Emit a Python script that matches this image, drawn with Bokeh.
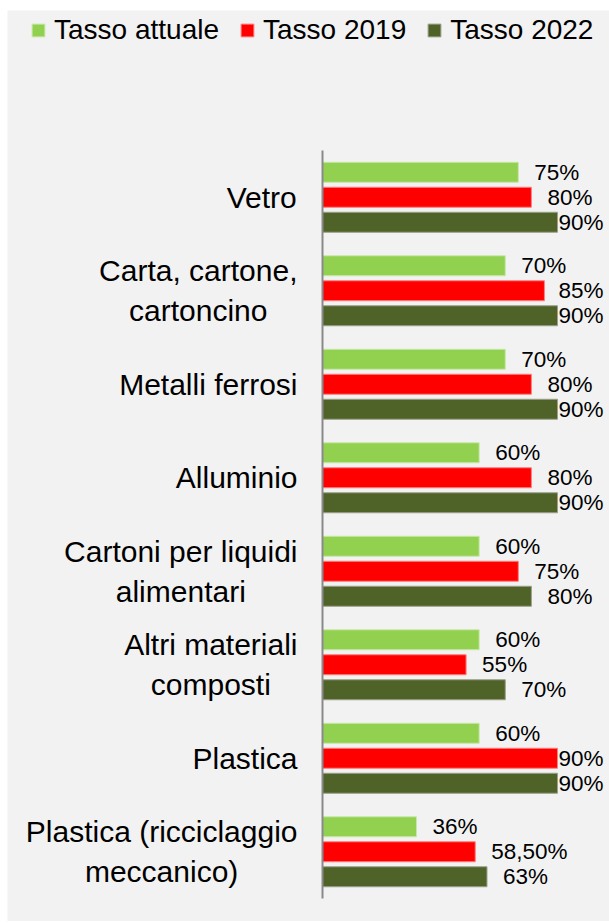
from bokeh.plotting import figure
from bokeh.models import ColumnDataSource, Range1d, Legend, LegendItem
from bokeh.core.properties import value
from bokeh.transform import dodge
from bokeh.embed import file_html
from bokeh.resources import INLINE

# ---------------- data ----------------
categories = ["Vetro", "Carta, cartone,\ncartoncino", "Metalli ferrosi", "Alluminio",
              "Cartoni per liquidi\nalimentari", "Altri materiali\ncomposti", "Plastica",
              "Plastica (ricciclaggio\nmeccanico)"]
tasso_attuale = [75, 70, 70, 60, 60, 60, 60, 36]
tasso_2019 = [80, 85, 80, 80, 75, 55, 90, 58.5]
tasso_2022 = [90, 90, 90, 90, 80, 70, 90, 63]
series_names = ["Tasso attuale", "Tasso 2019", "Tasso 2022"]
series_colors = ["#92D050", "#FF0000", "#4F6228"]

# ---------------- layout constants ----------------
FONT = "Liberation Sans"
W, H = 602, 911
AXIS_X = 315          # pixel position of the value axis inside the figure
PLOT_TOP = 140        # pixels above first category band
PLOT_BOTTOM = 23      # pixels below last category band
PPU = 2.611           # pixels per percent unit
n = len(categories)
band_px = (H - PLOT_TOP - PLOT_BOTTOM) / n

x_start = -AXIS_X / PPU
x_end = (W - AXIS_X) / PPU
y_start = -0.5 - PLOT_BOTTOM / band_px
y_end = n - 0.5 + PLOT_TOP / band_px

def fmt(v):
    if float(v).is_integer():
        return f"{int(v)}%"
    return f"{v:.2f}".replace(".", ",") + "%"

# Arial / Liberation Sans advance widths (per 1000 em)
AW = {" ": 278, "(": 333, ")": 333, ",": 278, "A": 667, "C": 722, "M": 833, "P": 667,
      "V": 667, "a": 556, "c": 500, "d": 556, "e": 556, "f": 278, "g": 556, "i": 222,
      "l": 222, "m": 833, "n": 556, "o": 556, "p": 556, "q": 556, "r": 333, "s": 500,
      "t": 278, "u": 556}

def text_w(s, size):
    return sum(AW.get(ch, 556) for ch in s) * size / 1000.0

CAT_SIZE = 30
ypos = [n - 1 - i for i in range(n)]  # first category on top

p = figure(width=W, height=H, x_range=Range1d(x_start, x_end), y_range=Range1d(y_start, y_end),
           output_backend="svg", toolbar_location=None, min_border=0)
p.margin = (10, 0, 0, 7)
p.background_fill_color = "#F2F2F2"
p.border_fill_color = "#F2F2F2"
p.outline_line_color = None
p.xgrid.visible = False
p.ygrid.visible = False
p.xaxis.visible = False
p.yaxis.visible = False

BAR_H = 20 / band_px
STEP = 25 / band_px
offsets = [STEP, 0.0, -STEP]
series_vals = [tasso_attuale, tasso_2019, tasso_2022]
line_cols = ["#C8E8A8", "#FF8080", "#9AA08A"]

renderers = []
for name, vals, col, off, lc in zip(series_names, series_vals, series_colors, offsets, line_cols):
    lab_x = [min(v + 16 / PPU, 90.4) for v in vals]
    src = ColumnDataSource(dict(y=ypos, v=vals, lx=lab_x, txt=[fmt(v) for v in vals]))
    r = p.hbar(y=dodge("y", off), right="v", left=0, height=BAR_H,
               source=src, fill_color=col, line_color=lc, line_width=1)
    renderers.append(r)
    p.text(x="lx", y=dodge("y", off), text="txt", source=src,
           text_font=value(FONT), text_font_size="22.5px", text_color="#000000",
           text_align="left", text_baseline="middle")

# value axis line spanning the category bands
p.segment(x0=[0], y0=[-0.5], x1=[0], y1=[n - 0.5], line_color="#898989", line_width=2)

# category labels (right-aligned block, centred lines)
xoffs = []
for c in categories:
    mw = max(text_w(line, CAT_SIZE) for line in c.split("\n"))
    xoffs.append(-25 - mw / 2)
csrc = ColumnDataSource(dict(y=ypos, txt=categories, x0=[0] * n, xo=xoffs))
p.text(x="x0", y="y", x_offset="xo", text="txt", source=csrc,
       text_font=value(FONT), text_font_size=f"{CAT_SIZE}px", text_color="#000000",
       text_align="center", text_baseline="middle", text_line_height=1.2)

legend = Legend(items=[LegendItem(label=nm, renderers=[r]) for nm, r in zip(series_names, renderers)],
                orientation="horizontal", location=(23, H - 36))
legend.label_text_font = FONT
legend.label_text_font_size = "28px"
legend.label_text_color = "#000000"
legend.glyph_width = 16
legend.glyph_height = 16
legend.label_standoff = 8
legend.spacing = 20
legend.padding = 0
legend.margin = 0
legend.border_line_color = None
legend.background_fill_alpha = 0
p.add_layout(legend, "center")

open("out.html", "w").write(file_html(p, INLINE))
